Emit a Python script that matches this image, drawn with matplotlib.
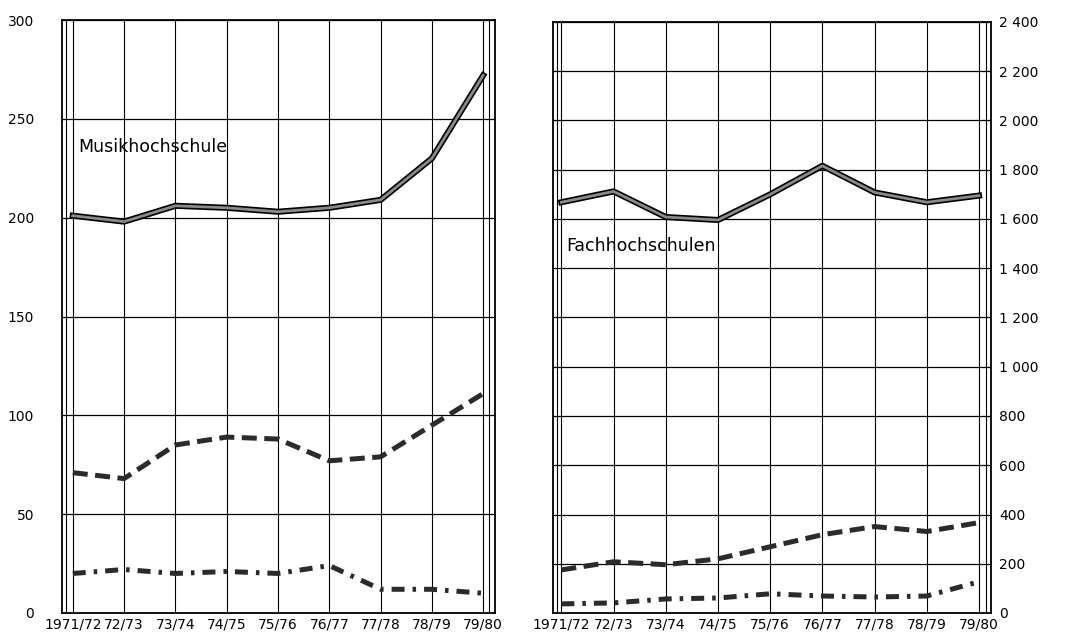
import matplotlib
matplotlib.use("Agg")
import matplotlib.pyplot as plt

# Studienjahre
years = ["1971/72", "72/73", "73/74", "74/75", "75/76", "76/77", "77/78", "78/79", "79/80"]

# Musikhochschule (linke Skala)
musik_solid = [201, 198, 206, 205, 203, 205, 209, 230, 272]
musik_dash = [71, 68, 85, 89, 88, 77, 79, 95, 111]
musik_dashdot = [20, 22, 20, 21, 20, 24, 12, 12, 10]

# Fachhochschulen (rechte Skala)
fh_solid = [1668, 1712, 1608, 1596, 1700, 1816, 1708, 1668, 1695]
fh_dash = [175, 208, 196, 220, 269, 318, 351, 331, 367]
fh_dashdot = [37, 41, 57, 61, 78, 69, 65, 69, 127]

left_ticks = [0, 50, 100, 150, 200, 250, 300]
right_ticks = [0, 200, 400, 600, 800, 1000, 1200, 1400, 1600, 1800, 2000, 2200, 2400]
right_labels = ["0", "200", "400", "600", "800", "1 000", "1 200", "1 400",
                "1 600", "1 800", "2 000", "2 200", "2 400"]

W, H = 1069, 641
fig = plt.figure(figsize=(W / 100, H / 100), dpi=100)

ax1 = fig.add_axes([62 / W, 1 - 613 / H, (495 - 62) / W, (613 - 20) / H])
ax2 = fig.add_axes([553 / W, 1 - 613 / H, (991 - 553) / W, (613 - 22) / H])

x = list(range(len(years)))


def draw(ax, solid, dash, dashdot):
    # durchgezogene Linie: schwarze Kontur mit grauer Füllung
    ax.plot(x, solid, color="black", lw=4.4, zorder=5)
    ax.plot(x, solid, color="#8a8a8a", lw=2.0, zorder=6)
    ax.plot(x, dash, color="#2b2b2b", lw=3.6, linestyle=(0, (3.0, 1.5)), zorder=5)
    ax.plot(x, dashdot, color="#2b2b2b", lw=3.6,
            linestyle=(0, (2.6, 1.6, 0.7, 1.6)), zorder=5)
    for xi in x:
        ax.axvline(xi, color="black", lw=0.8, zorder=1)
    ax.tick_params(length=0, labelsize=10)
    ax.set_xticks(x)
    ax.set_xticklabels(years)
    for s in ax.spines.values():
        s.set_linewidth(1.3)


draw(ax1, musik_solid, musik_dash, musik_dashdot)
ax1.set_xlim(-0.21, 8.23)
ax1.set_ylim(0, 300)
ax1.set_yticks(left_ticks)
for t in left_ticks:
    ax1.axhline(t, color="black", lw=0.9, zorder=1)
ax1.axvline(-0.13, color="black", lw=0.8)
ax1.axvline(8.12, color="black", lw=0.8)
ax1.tick_params(axis="y", pad=20)
ax1.text(0.1, 236, "Musikhochschule", fontsize=12.5, ha="left", va="center")

draw(ax2, fh_solid, fh_dash, fh_dashdot)
ax2.set_xlim(-0.16, 8.23)
ax2.set_ylim(0, 2400)
ax2.set_yticks(right_ticks)
ax2.set_yticklabels(right_labels)
ax2.yaxis.tick_right()
for t in right_ticks:
    ax2.axhline(t, color="black", lw=0.9, zorder=1)
ax2.axvline(-0.08, color="black", lw=0.8)
ax2.axvline(8.13, color="black", lw=0.8)
ax2.tick_params(axis="y", pad=6)
ax2.text(0.1, 1490, "Fachhochschulen", fontsize=12.5, ha="left", va="center")

fig.savefig("out.png", dpi=100, facecolor="white")
